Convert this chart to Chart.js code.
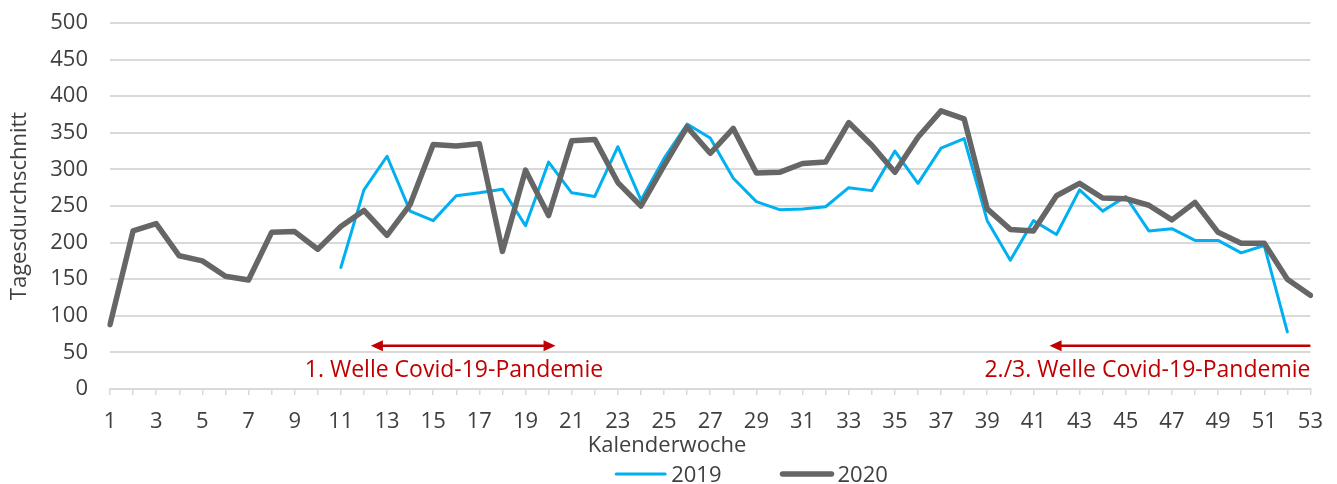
<!DOCTYPE html>
<html>
<head>
<meta charset="utf-8">
<script src="https://cdn.jsdelivr.net/npm/chart.js@4.4.1/dist/chart.umd.min.js"></script>
<style>
  html, body { margin: 0; padding: 0; background: #fff; }
  #wrap { width: 1337px; height: 484px; }
</style>
</head>
<body>
<div id="wrap"><canvas id="lineChart"></canvas></div>
<script>
// ===============================
// DATEN
// ===============================
const kalenderwochen = ['1', '2', '3', '4', '5', '6', '7', '8', '9', '10',
  '11', '12', '13', '14', '15', '16', '17', '18', '19', '20',
  '21', '22', '23', '24', '25', '26', '27', '28', '29', '30',
  '31', '32', '33', '34', '35', '36', '37', '38', '39', '40',
  '41', '42', '43', '44', '45', '46', '47', '48', '49', '50',
  '51', '52', '53'];

const werte2019 = [null, null, null, null, null, null, null, null, null, null,
  166, 272, 318, 243, 230, 264, 268, 273, 223, 310,
  268, 263, 331, 258, 315, 362, 343, 288, 256, 245,
  246, 249, 275, 271, 325, 281, 329, 342, 230, 176,
  230, 211, 272, 243, 263, 216, 219, 203, 203, 186,
  196, 78, null];

const werte2020 = [88, 216, 226, 182, 175, 154, 149, 214, 215, 191,
  222, 244, 210, 252, 334, 332, 335, 188, 299, 237,
  339, 341, 282, 250, 305, 358, 322, 356, 295, 296,
  308, 310, 364, 333, 296, 344, 380, 369, 246, 218,
  216, 264, 281, 261, 260, 251, 231, 255, 214, 199,
  199, 150, 128];

// Pandemie-Wellen (Kalenderwoche von/bis)
const wellenText = ['1. Welle Covid-19-Pandemie', '2./3. Welle Covid-19-Pandemie'];
const wellenVon = [12.3, 41.7];
const wellenBis = [20.3, 53];

const schrift = '"Open Sans", "Noto Sans", sans-serif';
const textFarbe = '#404040';
const rot = '#c00000';

// ===============================
// PFEILE + BESCHRIFTUNG DER WELLEN
// ===============================
function pfeilSpitze(ctx, x, y, richtung) {
  ctx.beginPath();
  ctx.moveTo(x, y);
  ctx.lineTo(x + richtung * 12, y - 5.5);
  ctx.lineTo(x + richtung * 12, y + 5.5);
  ctx.closePath();
  ctx.fill();
}

const wellenPlugin = {
  id: 'wellen',
  afterDatasetsDraw(chart) {
    const {ctx, scales: {x, y}} = chart;
    ctx.save();
    ctx.strokeStyle = rot;
    ctx.fillStyle = rot;
    ctx.lineWidth = 2.5;
    ctx.font = '23px ' + schrift;
    ctx.textBaseline = 'alphabetic';
    const yPfeil = y.getPixelForValue(59);
    const yText = y.getPixelForValue(16.5);

    // 1. Welle: Pfeil in beide Richtungen
    let x1 = x.getPixelForValue(wellenVon[0] - 1);
    let x2 = x.getPixelForValue(wellenBis[0] - 1);
    ctx.beginPath();
    ctx.moveTo(x1 + 8, yPfeil);
    ctx.lineTo(x2 - 8, yPfeil);
    ctx.stroke();
    pfeilSpitze(ctx, x1, yPfeil, 1);
    pfeilSpitze(ctx, x2, yPfeil, -1);
    ctx.textAlign = 'center';
    ctx.fillText(wellenText[0], x.getPixelForValue(15.9 - 1), yText);

    // 2./3. Welle: Pfeil nach links, bis Jahresende
    x1 = x.getPixelForValue(wellenVon[1] - 1);
    x2 = x.getPixelForValue(wellenBis[1] - 1);
    ctx.beginPath();
    ctx.moveTo(x1 + 8, yPfeil);
    ctx.lineTo(x2, yPfeil);
    ctx.stroke();
    pfeilSpitze(ctx, x1, yPfeil, 1);
    ctx.textAlign = 'right';
    ctx.fillText(wellenText[1], x2, yText);
    ctx.restore();
  }
};

// ===============================
// LEGENDE (unten, Linienmuster)
// ===============================
const legendePlugin = {
  id: 'legende',
  afterDraw(chart) {
    const ctx = chart.ctx;
    const linie = 53, abstand = 4, luecke = 59;
    ctx.save();
    ctx.font = '22px ' + schrift;
    ctx.textBaseline = 'alphabetic';
    ctx.textAlign = 'left';
    const items = chart.data.datasets.map(ds => ({
      ds, breite: linie + abstand + ctx.measureText(ds.label).width
    }));
    const gesamt = items.reduce((s, it) => s + it.breite, 0) + luecke * (items.length - 1);
    let xPos = 751 - gesamt / 2;
    items.forEach(it => {
      ctx.strokeStyle = it.ds.borderColor;
      ctx.lineWidth = it.ds.borderWidth;
      ctx.lineCap = 'round';
      ctx.beginPath();
      ctx.moveTo(xPos + 2, 474);
      ctx.lineTo(xPos + linie - 2, 474);
      ctx.stroke();
      ctx.fillStyle = textFarbe;
      ctx.fillText(it.ds.label, xPos + linie + abstand, 482);
      xPos += it.breite + luecke;
    });
    ctx.restore();
  }
};

// ===============================
// LINIENDIAGRAMM
// ===============================
new Chart(document.getElementById('lineChart'), {
  type: 'line',
  data: {
    labels: kalenderwochen,
    datasets: [
      {
        label: '2019',
        data: werte2019,
        borderColor: '#00b0f0',
        borderWidth: 3,
        order: 1
      },
      {
        label: '2020',
        data: werte2020,
        borderColor: '#666666',
        borderWidth: 5.5,
        order: 0
      }
    ]
  },
  options: {
    responsive: true,
    maintainAspectRatio: false,
    animation: false,
    elements: {
      point: { radius: 0, hoverRadius: 0 },
      line: { tension: 0, borderJoinStyle: 'round', borderCapStyle: 'round', fill: false }
    },
    layout: { padding: { left: 23, right: 26, top: 23, bottom: 25.4 } },
    plugins: {
      legend: { display: false },
      tooltip: { enabled: false },
      title: {
        display: true,
        text: 'Kalenderwoche',
        position: 'bottom',
        weight: 500,
        color: textFarbe,
        font: { family: schrift, size: 22, weight: 'normal' },
        padding: { top: 3.2, bottom: 0 }
      }
    },
    scales: {
      x: {
        offset: false,
        afterFit(scale) { scale.height = 40; },
        grid: {
          drawOnChartArea: false,
          drawTicks: true,
          tickLength: 6,
          color: '#d9d9d9',
          lineWidth: 1.5
        },
        border: { display: true, color: '#d9d9d9', width: 2 },
        ticks: {
          autoSkip: false,
          maxRotation: 0,
          padding: 14,
          color: textFarbe,
          font: { family: schrift, size: 22 },
          callback: (val, i) => (i % 2 === 0 ? kalenderwochen[i] : '')
        }
      },
      y: {
        min: 0,
        max: 500,
        afterFit(scale) {
          scale.width = 87;
          scale.paddingTop = 0;
          scale.paddingBottom = 0;
        },
        grid: { color: '#d9d9d9', lineWidth: 2, drawTicks: false },
        border: { display: false },
        ticks: {
          stepSize: 50,
          padding: 22,
          color: textFarbe,
          font: { family: schrift, size: 22 }
        },
        title: {
          display: true,
          text: 'Tagesdurchschnitt',
          color: textFarbe,
          font: { family: schrift, size: 22 },
          padding: { top: -16, bottom: 0 }
        }
      }
    }
  },
  plugins: [wellenPlugin, legendePlugin]
});
</script>
</body>
</html>
